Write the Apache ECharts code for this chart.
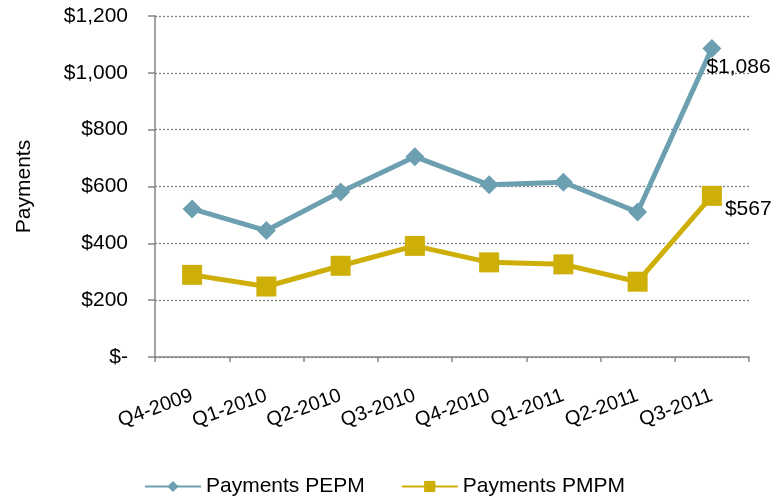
<!DOCTYPE html>
<html>
<head>
<meta charset="utf-8">
<script src="https://cdn.jsdelivr.net/npm/echarts@6/dist/echarts.min.js"></script>
<style>
  html, body { margin: 0; padding: 0; background: #fff; }
  #chart { width: 777px; height: 497px; }
</style>
</head>
<body>
<div id="chart"></div>
<script>
const quarters = ['Q4-2009', 'Q1-2010', 'Q2-2010', 'Q3-2010', 'Q4-2010', 'Q1-2011', 'Q2-2011', 'Q3-2011'];
const paymentsPEPM = [521, 445, 581, 705, 606, 615, 510, 1086];
const paymentsPMPM = [289, 248, 321, 391, 333, 326, 265, 567];

const fontFamily = '"Liberation Sans", Arial, sans-serif';

function money(v) {
    if (v === 0) return '$-';
    return '$' + v.toLocaleString('en-US');
}

// only the last point of each series carries a label
function lastLabel(values, offset) {
    return values.map((v, i) => {
        if (i !== values.length - 1) return v;
        return {
            value: v,
            label: {
                show: true,
                position: 'right',
                offset: offset,
                formatter: p => money(p.value),
                color: '#000',
                fontSize: 21,
                fontFamily: fontFamily
            }
        };
    });
}

const chart = echarts.init(document.getElementById('chart'));
chart.setOption({
    animation: false,
    grid: {left: 155, right: 28, top: 16, bottom: 140},
    legend: {
        top: 471,
        left: 139,
        itemWidth: 56,
        itemHeight: 14,
        itemGap: 36,
        textStyle: {fontSize: 21, color: '#000', fontFamily: fontFamily}
    },
    xAxis: {
        type: 'category',
        data: quarters,
        boundaryGap: true,
        axisLine: {lineStyle: {color: '#858585', width: 1.5}},
        axisTick: {show: true, length: 5, lineStyle: {color: '#858585', width: 1.5}},
        axisLabel: {
            interval: 0,
            rotate: 20,
            color: '#000',
            fontSize: 20,
            fontFamily: fontFamily,
            margin: 38
        }
    },
    yAxis: {
        type: 'value',
        min: 0,
        max: 1200,
        interval: 200,
        name: 'Payments',
        nameLocation: 'middle',
        nameGap: 120,
        nameTextStyle: {fontSize: 21, color: '#000', fontFamily: fontFamily},
        axisLine: {show: true, lineStyle: {color: '#858585', width: 1.5}},
        axisTick: {show: true, length: 7, lineStyle: {color: '#858585', width: 1.5}},
        splitLine: {lineStyle: {color: '#808080', type: [2, 2], width: 1.3}},
        axisLabel: {
            color: '#000',
            fontSize: 21,
            fontFamily: fontFamily,
            margin: 27,
            formatter: money
        }
    },
    series: [
        {
            name: 'Payments PEPM',
            type: 'line',
            data: lastLabel(paymentsPEPM, [-20, 19]),
            symbol: 'diamond',
            symbolSize: 19,
            lineStyle: {color: '#6CA0B1', width: 5},
            itemStyle: {color: '#6CA0B1'}
        },
        {
            name: 'Payments PMPM',
            type: 'line',
            data: lastLabel(paymentsPMPM, [-2, 13]),
            symbol: 'rect',
            symbolSize: 20,
            lineStyle: {color: '#CDAF08', width: 5},
            itemStyle: {color: '#CDAF08'}
        }
    ]
});
</script>
</body>
</html>
